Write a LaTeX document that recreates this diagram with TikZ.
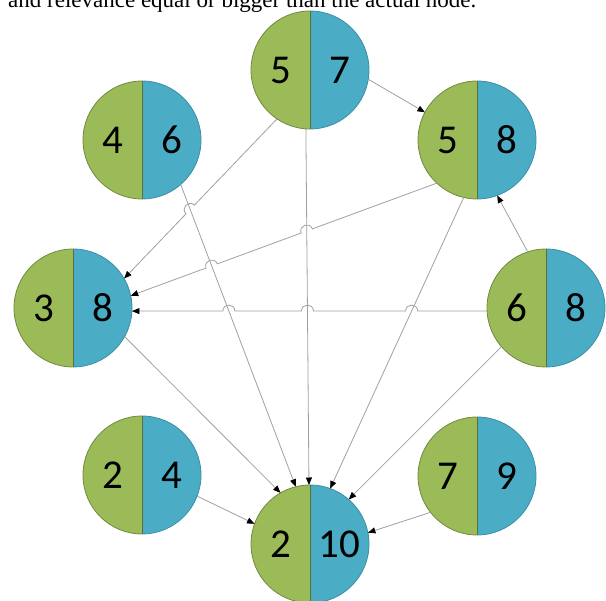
\documentclass[tikz,border=0pt]{standalone}
\usepackage{fontspec}
\setmainfont{Liberation Serif}
\newfontfamily\numfont{Carlito}
\usetikzlibrary{arrows.meta,calc,intersections}
\definecolor{gfill}{HTML}{9BBB59}
\definecolor{bfill}{HTML}{4BACC6}
\definecolor{gline}{HTML}{71893F}
\definecolor{bline}{HTML}{3A8FA6}
\definecolor{divline}{HTML}{5B6E34}
\definecolor{connc}{HTML}{A0A0A0}
\newcommand{\splitnode}[4]{%
  \node[halfc] (#1) at (#2) {};
  \fill[gfill] (#1.north) arc[start angle=90,end angle=270,radius=59pt] -- cycle;
  \fill[bfill] (#1.south) arc[start angle=-90,end angle=90,radius=59pt] -- cycle;
  \draw[gline,line width=0.8pt] (#1.north) arc[start angle=90,end angle=270,radius=59pt];
  \draw[bline,line width=0.8pt] (#1.south) arc[start angle=-90,end angle=90,radius=59pt];
  \draw[divline,line width=0.8pt] (#1.north) -- (#1.south);
  \node[num] (#1-l) at ([xshift=-29.5pt]#1.center) {#3};
  \node[num] (#1-r) at ([xshift=29.5pt]#1.center) {#4};
}
\newcommand{\hoppts}[3]{% hop name, from, to
  \coordinate (#1s) at ($(#1)!6pt!(#2)$);
  \coordinate (#1e) at ($(#1)!6pt!(#3)$);
  \coordinate (#1a) at ($(#1s)!8pt!-90:(#1e)$);
  \coordinate (#1b) at ($(#1e)!8pt!90:(#1s)$);
}
\begin{document}
\begin{tikzpicture}[x=1pt,y=-1pt,
  halfc/.style={circle,minimum size=118pt,inner sep=0pt,outer sep=0pt},
  num/.style={font=\numfont\fontsize{41}{48}\selectfont,inner sep=0pt},
  conn/.style={draw=connc,line width=0.8pt,-{Triangle[length=7.5pt,width=6pt,color=black]}}]
\useasboundingbox (0,0) rectangle (606,601);
\node[anchor=base west,inner sep=0pt,font=\fontsize{23}{28}\selectfont] (caption) at (8,8) {and relevance equal or bigger than the actual node.};

\splitnode{ntop}{310,70}{5}{7}
\splitnode{nul}{142,140}{4}{6}
\splitnode{nur}{477,140}{5}{8}
\splitnode{nl}{73,308}{3}{8}
\splitnode{nr}{546,308}{6}{8}
\splitnode{nll}{142,475}{2}{4}
\splitnode{nlr}{477,476}{7}{9}
\splitnode{nbot}{310,544}{2}{10}

% underlying straight paths for crossings
\path[name path=p2] (ntop.236) -- (nl.30);
\path[name path=p3] (ntop.266) -- (nbot.91);
\path[name path=p4] (nul.-49) -- (nbot.104);
\path[name path=p5] (nur.227) -- (nl.12);
\path[name path=p6] (nur.257) -- (nbot.70);
\path[name path=p8] (nr.183) -- (nl.-3);
\path[name intersections={of=p2 and p4,by=h24}];
\path[name intersections={of=p5 and p3,by=h53}];
\path[name intersections={of=p5 and p4,by=h54}];
\path[name intersections={of=p8 and p6,by=h86}];
\path[name intersections={of=p8 and p3,by=h83}];
\path[name intersections={of=p8 and p4,by=h84}];
\hoppts{h24}{ntop.236}{nl.30}
\hoppts{h53}{nur.227}{nl.12}
\hoppts{h54}{nur.227}{nl.12}
\hoppts{h86}{nr.183}{nl.-3}
\hoppts{h83}{nr.183}{nl.-3}
\hoppts{h84}{nr.183}{nl.-3}

% connectors
\draw[conn] (ntop.-9) -- (nur.152);
\draw[conn] (ntop.236) -- (h24s) .. controls (h24a) and (h24b) .. (h24e) -- (nl.30);
\draw[conn] (ntop.266) -- (nbot.91);
\draw[conn] (nul.-49) -- (nbot.104);
\draw[conn] (nur.227) -- (h53s) .. controls (h53a) and (h53b) .. (h53e)
  -- (h54s) .. controls (h54a) and (h54b) .. (h54e) -- (nl.12);
\draw[conn] (nur.257) -- (nbot.70);
\draw[conn] (nr.108) -- (nur.290);
\draw[conn] (nr.183) -- (h86s) .. controls (h86a) and (h86b) .. (h86e)
  -- (h83s) .. controls (h83a) and (h83b) .. (h83e)
  -- (h84s) .. controls (h84a) and (h84b) .. (h84e) -- (nl.-3);
\draw[conn] (nr.221) -- (nbot.49);
\draw[conn] (nl.-29) -- (nbot.120);
\draw[conn] (nll.-21) -- (nbot.160);
\draw[conn] (nlr.218) -- (nbot.11);
\end{tikzpicture}
\end{document}
